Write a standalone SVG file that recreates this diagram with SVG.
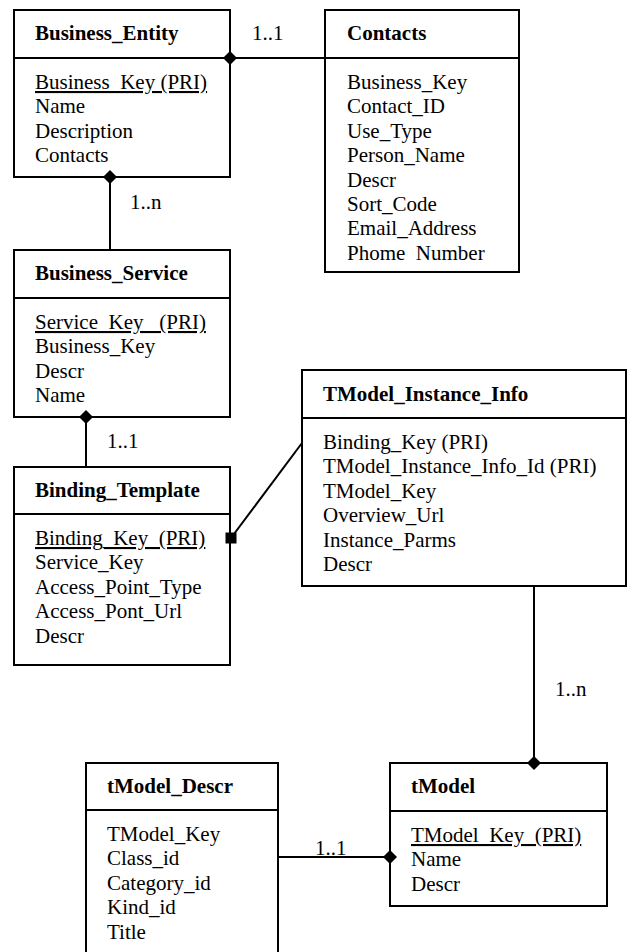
<svg xmlns="http://www.w3.org/2000/svg" width="627" height="952" viewBox="0 0 627 952">
  <style>
    .box { fill: #ffffff; stroke: #000000; stroke-width: 2; }
    .sep { stroke: #000000; stroke-width: 2; }
    .title { font-family: "Liberation Serif", "Times New Roman", serif; font-size: 21px; font-weight: bold; fill: #000000; }
    .field { font-family: "Liberation Serif", "Times New Roman", serif; font-size: 21px; fill: #000000; white-space: pre; }
    .key { text-decoration: underline; }
    .link { fill: none; stroke: #000000; stroke-width: 2; }
    .mult { font-family: "Liberation Serif", "Times New Roman", serif; font-size: 21px; fill: #000000; }
  </style>
  <defs>
    <marker id="diamond" viewBox="-8 -8 16 16" markerWidth="16" markerHeight="16" refX="0" refY="0" markerUnits="userSpaceOnUse" orient="0">
      <polygon points="0,-7 7,0 0,7 -7,0" fill="#000000"/>
    </marker>
    <marker id="square" viewBox="-7 -7 14 14" markerWidth="14" markerHeight="14" refX="0" refY="0" markerUnits="userSpaceOnUse" orient="0">
      <rect x="-5.5" y="-5.5" width="11" height="11" fill="#000000"/>
    </marker>
  </defs>

  <g id="business_entity">
    <rect class="box" x="14" y="10" width="216" height="167"/>
    <line class="sep" x1="14" y1="58" x2="230" y2="58"/>
    <text class="title" x="35" y="40">Business_Entity</text>
    <text class="field key" x="35" y="89">Business_Key (PRI)</text>
    <text class="field" x="35" y="113.4">Name</text>
    <text class="field" x="35" y="137.8">Description</text>
    <text class="field" x="35" y="162.2">Contacts</text>
  </g>

  <g id="contacts">
    <rect class="box" x="325" y="10" width="194" height="262"/>
    <line class="sep" x1="325" y1="58" x2="519" y2="58"/>
    <text class="title" x="347" y="40">Contacts</text>
    <text class="field" x="347" y="89">Business_Key</text>
    <text class="field" x="347" y="113.4">Contact_ID</text>
    <text class="field" x="347" y="137.8">Use_Type</text>
    <text class="field" x="347" y="162.2">Person_Name</text>
    <text class="field" x="347" y="186.6">Descr</text>
    <text class="field" x="347" y="211">Sort_Code</text>
    <text class="field" x="347" y="235.4">Email_Address</text>
    <text class="field" x="347" y="259.8">Phome  Number</text>
  </g>

  <g id="business_service">
    <rect class="box" x="14" y="250" width="216" height="167"/>
    <line class="sep" x1="14" y1="298" x2="230" y2="298"/>
    <text class="title" x="35" y="280">Business_Service</text>
    <text class="field key" x="35" y="329">Service_Key   (PRI)</text>
    <text class="field" x="35" y="353.4">Business_Key</text>
    <text class="field" x="35" y="377.8">Descr</text>
    <text class="field" x="35" y="402.2">Name</text>
  </g>

  <g id="binding_template">
    <rect class="box" x="14" y="467" width="216" height="198"/>
    <line class="sep" x1="14" y1="514" x2="230" y2="514"/>
    <text class="title" x="35" y="497">Binding_Template</text>
    <text class="field key" x="35" y="545">Binding_Key  (PRI)</text>
    <text class="field" x="35" y="569.4">Service_Key</text>
    <text class="field" x="35" y="593.8">Access_Point_Type</text>
    <text class="field" x="35" y="618.2">Access_Pont_Url</text>
    <text class="field" x="35" y="642.6">Descr</text>
  </g>

  <g id="tmodel_instance_info">
    <rect class="box" x="302" y="370" width="324" height="216"/>
    <line class="sep" x1="302" y1="418" x2="626" y2="418"/>
    <text class="title" x="323" y="401">TModel_Instance_Info</text>
    <text class="field" x="323" y="449">Binding_Key (PRI)</text>
    <text class="field" x="323" y="473.4">TModel_Instance_Info_Id (PRI)</text>
    <text class="field" x="323" y="497.8">TModel_Key</text>
    <text class="field" x="323" y="522.2">Overview_Url</text>
    <text class="field" x="323" y="546.6">Instance_Parms</text>
    <text class="field" x="323" y="571">Descr</text>
  </g>

  <g id="tmodel_descr">
    <rect class="box" x="86" y="763" width="192" height="200"/>
    <line class="sep" x1="86" y1="810" x2="278" y2="810"/>
    <text class="title" x="107" y="793">tModel_Descr</text>
    <text class="field" x="107" y="841">TModel_Key</text>
    <text class="field" x="107" y="865.4">Class_id</text>
    <text class="field" x="107" y="889.8">Category_id</text>
    <text class="field" x="107" y="914.2">Kind_id</text>
    <text class="field" x="107" y="938.6">Title</text>
  </g>

  <g id="tmodel">
    <rect class="box" x="390" y="763" width="217" height="143"/>
    <line class="sep" x1="390" y1="811" x2="607" y2="811"/>
    <text class="title" x="411" y="793">tModel</text>
    <text class="field key" x="411" y="842">TModel_Key  (PRI)</text>
    <text class="field" x="411" y="866.4">Name</text>
    <text class="field" x="411" y="890.8">Descr</text>
  </g>

  <!-- connectors, drawn last so the end markers sit on top of the box borders -->
  <g id="connectors">
    <path class="link" d="M230,58 H325" marker-start="url(#diamond)"/>
    <path class="link" d="M110,177 V250" marker-start="url(#diamond)"/>
    <path class="link" d="M86,417 V467" marker-start="url(#diamond)"/>
    <path class="link" d="M231,538 L302,443" marker-start="url(#square)"/>
    <path class="link" d="M534,763 V586" marker-start="url(#diamond)"/>
    <path class="link" d="M390,857 H278" marker-start="url(#diamond)"/>
    <text class="mult" x="252" y="40">1..1</text>
    <text class="mult" x="130" y="209">1..n</text>
    <text class="mult" x="107" y="448">1..1</text>
    <text class="mult" x="555" y="696">1..n</text>
    <text class="mult" x="315" y="855">1..1</text>
  </g>
</svg>
